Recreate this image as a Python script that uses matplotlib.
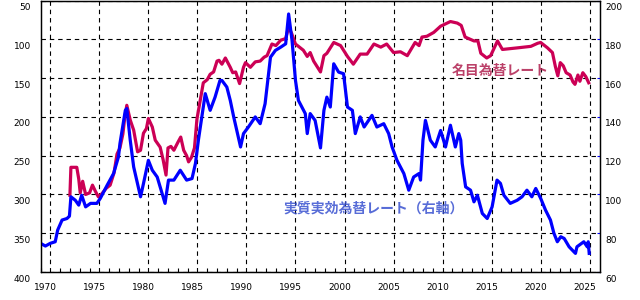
import matplotlib
matplotlib.use("Agg")
import matplotlib.pyplot as plt
import matplotlib.transforms as mtransforms

# nominal yen/dollar (left axis, inverted)
nom_years = [1973.0, 1973.1, 1973.7, 1973.9, 1974.05, 1974.3, 1974.6, 1975.0, 1975.3, 1975.6,
             1975.9, 1976.2, 1976.7, 1977.1, 1977.5, 1977.8, 1978.1, 1978.4, 1978.6, 1978.8,
             1979.0, 1979.15, 1979.5, 1979.9, 1980.2, 1980.5, 1980.8, 1981.0, 1981.4, 1981.7,
             1982.2, 1982.5, 1982.8, 1983.0, 1983.3, 1983.6, 1984.0, 1984.3, 1984.6, 1984.9,
             1985.1, 1985.4, 1985.7, 1985.95, 1986.3, 1986.6, 1987.0, 1987.3, 1987.65, 1988.0,
             1988.2, 1988.5, 1988.85, 1989.35, 1989.6, 1989.9, 1990.3, 1990.7, 1990.9, 1991.4,
             1991.9, 1992.4, 1992.8, 1993.1, 1993.6, 1994.0, 1994.5, 1995.0, 1995.3, 1995.6,
             1996.0, 1996.8, 1997.2, 1997.5, 1997.85, 1998.55, 1998.9, 1999.2, 1999.9, 2000.6,
             2001.3, 2001.9, 2002.6, 2003.3, 2004.0, 2004.7, 2005.3, 2006.0, 2006.7, 2007.4,
             2008.2, 2008.6, 2008.9, 2009.4, 2010.1, 2010.8, 2011.8, 2012.5, 2012.9, 2013.3,
             2014.2, 2014.6, 2014.9, 2015.5, 2015.9, 2016.6, 2017.1, 2017.9, 2018.6, 2019.3,
             2020.0, 2020.7, 2021.0, 2021.7, 2022.2, 2022.5, 2022.75, 2023.0, 2023.3, 2023.6,
             2024.0, 2024.3, 2024.5, 2024.8, 2025.0, 2025.3, 2025.6, 2025.9]
nom_rate = [301, 265, 265, 280, 298, 283, 300, 298, 288, 296,
            303, 300, 292, 288, 272, 248, 240, 222, 200, 185,
            196, 204, 217, 245, 243, 221, 215, 202, 213, 230,
            239, 255, 275, 240, 238, 243, 233, 226, 243, 250,
            258, 252, 240, 203, 178, 156, 152, 145, 142, 128,
            127, 132, 124, 136, 143, 142, 157, 136, 130, 136,
            129, 128, 123, 121, 106, 108, 101, 99, 84, 92,
            106, 114, 122, 117, 128, 142, 121, 118, 104, 108,
            122, 132, 119, 119, 106, 110, 106, 117, 116, 121,
            104, 108, 97, 96, 91, 83, 77, 79, 82, 97,
            102, 102, 118, 124, 121, 102, 113, 112, 111, 110,
            109, 105, 104, 111, 117, 135, 147, 130, 134, 143,
            146, 155, 158, 146, 154, 143, 148, 156]

# real effective exchange rate (right axis)
reer_years = [1970.0, 1970.5, 1971.0, 1971.5, 1971.75, 1972.2, 1972.7, 1972.95, 1973.1, 1973.55,
              1973.9, 1974.2, 1974.6, 1975.1, 1975.75, 1976.1, 1976.8, 1977.45, 1977.95, 1978.1,
              1978.65, 1978.8, 1979.15, 1979.5, 1980.2, 1980.5, 1981.0, 1981.4, 1981.9, 1982.7,
              1983.05, 1983.6, 1984.25, 1984.9, 1985.45, 1985.8, 1986.1, 1986.3, 1986.8, 1987.3,
              1987.8, 1988.3, 1988.5, 1989.0, 1989.35, 1989.7, 1990.4, 1990.7, 1991.2, 1991.9,
              1992.4, 1992.9, 1993.45, 1993.95, 1994.5, 1995.0, 1995.3, 1995.65, 1996.0, 1996.3,
              1997.0, 1997.2, 1997.5, 1998.0, 1998.55, 1998.9, 1999.2, 1999.55, 1999.9, 2000.4,
              2000.9, 2001.3, 2001.8, 2002.1, 2002.6, 2003.0, 2003.8, 2004.3, 2005.0, 2005.5,
              2005.85, 2006.35, 2007.05, 2007.55, 2008.05, 2008.6, 2008.75, 2009.0, 2009.25, 2009.75,
              2010.25, 2010.8, 2011.3, 2011.8, 2012.3, 2012.65, 2012.85, 2013.0, 2013.35, 2013.85,
              2014.2, 2014.55, 2015.05, 2015.55, 2016.05, 2016.55, 2016.9, 2017.25, 2017.9, 2018.6,
              2019.1, 2019.6, 2020.1, 2020.5, 2021.0, 2021.5, 2022.0, 2022.35, 2022.7, 2023.05,
              2023.4, 2023.9, 2024.55, 2024.7, 2025.4, 2025.75, 2025.85, 2025.95]
reer_index = [74.8, 73.4, 74.8, 75.6, 81.6, 86.8, 87.6, 88.8, 98.8, 97.0,
              94.5, 99.6, 93.6, 95.4, 95.4, 98.0, 104.8, 110.8, 119.4, 126.2,
              143.4, 144.3, 128.0, 114.2, 98.8, 105.6, 117.6, 112.5, 109.0, 95.4,
              107.4, 107.4, 112.5, 107.4, 108.2, 116.0, 128.0, 134.8, 152.0, 143.4,
              150.2, 158.8, 158.8, 155.4, 148.5, 140.0, 124.5, 131.4, 134.8, 140.0,
              136.5, 146.8, 170.8, 174.3, 176.0, 177.7, 193.1, 179.4, 158.8, 148.5,
              141.7, 131.4, 141.7, 138.2, 124.0, 143.4, 150.2, 145.1, 167.4, 163.1,
              162.3, 145.1, 143.4, 131.4, 140.0, 134.8, 140.8, 134.8, 136.5, 131.4,
              124.5, 117.6, 110.8, 102.2, 109.0, 110.8, 107.4, 128.0, 138.2, 128.0,
              124.5, 133.0, 124.5, 135.7, 124.5, 131.4, 128.0, 116.0, 103.9, 102.2,
              96.2, 99.6, 90.2, 87.6, 93.6, 107.4, 105.7, 99.6, 95.4, 97.0,
              98.8, 102.2, 98.8, 103.1, 98.0, 91.9, 86.8, 80.0, 75.6, 78.2,
              77.3, 73.0, 69.6, 73.0, 75.6, 73.0, 75.6, 69.6]

x_grid = list(range(1971, 2027, 5))
x_labels = [str(y - 1) for y in x_grid]
left_ticks = list(range(50, 401, 50))
right_ticks = list(range(60, 201, 20))

red = '#cc0055'
blue = '#0000ff'
tick_font = dict(family=['Liberation Sans Narrow', 'DejaVu Sans'], size=6.5)

fig = plt.figure(figsize=(6.4, 3.0), dpi=100)
fig.subplots_adjust(left=40.5 / 640, right=599.5 / 640, top=0.998, bottom=28 / 300)
ax = fig.add_subplot(111)
ax2 = ax.twinx()

ax.plot(nom_years, nom_rate, color=red, lw=2.3)
ax2.plot(reer_years, reer_index, color=blue, lw=2.3)

ax.set_xlim(1970, 2027)
ax.set_ylim(400, 50)
ax2.set_ylim(60, 200)

ax.set_xticks(x_grid)
ax.set_xticklabels(x_labels, **tick_font)
ax.set_xticks(range(1970, 2027), minor=True)
ax.tick_params(axis='x', which='major', length=0, pad=8)
ax.tick_params(axis='x', which='minor', direction='in', length=3, width=0.8)
ax.set_yticks(left_ticks)
ax.set_yticklabels([str(v) for v in left_ticks], **tick_font)
ax.tick_params(axis='y', length=0, pad=7)
ax2.set_yticks(right_ticks)
ax2.set_yticklabels([str(v) for v in right_ticks], **tick_font)
ax2.tick_params(axis='y', direction='in', length=2, color=blue, pad=4)

# labels sit a little below/left of their grid lines
down = mtransforms.ScaledTranslation(0, -6 / 100, fig.dpi_scale_trans)
left = mtransforms.ScaledTranslation(-5 / 100, 0, fig.dpi_scale_trans)
for lab in ax.get_yticklabels() + ax2.get_yticklabels():
    lab.set_transform(lab.get_transform() + down)
for lab in ax.get_xticklabels():
    lab.set_transform(lab.get_transform() + left)

ax.grid(True, which='major', color='black', lw=0.8, linestyle=(0, (4, 3.5)))
for sp in list(ax.spines.values()) + list(ax2.spines.values()):
    sp.set_color('black')
    sp.set_linewidth(0.9)

ax2.text(2016.9, 163.5, '名目為替レート', color='#b0204f', fontsize=10, fontweight='bold',
         family=['Noto Sans CJK JP', 'DejaVu Sans'], ha='center', va='center', alpha=0.85)
ax2.text(2004.0, 92.5, '実質実効為替レート（右軸）', color='#3a52d0', fontsize=10, fontweight='bold',
         family=['Noto Sans CJK JP', 'DejaVu Sans'], ha='center', va='center', alpha=0.85)

fig.savefig('out.png', dpi=100)
